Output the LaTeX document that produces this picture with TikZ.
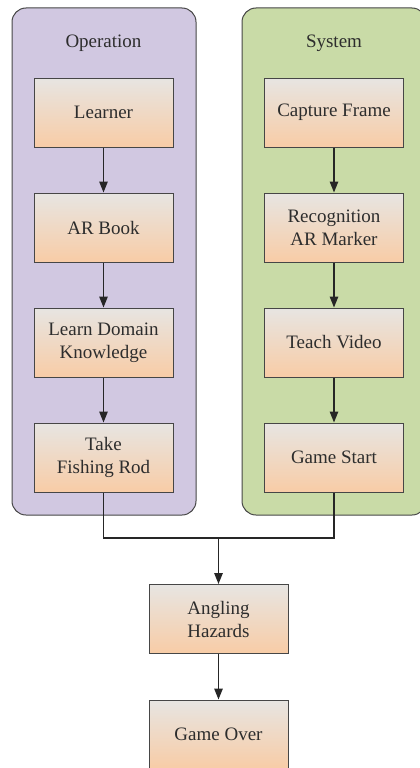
\documentclass[tikz,border=0pt]{standalone}
\usepackage{fontspec}
\setmainfont{Liberation Serif}
\newfontfamily\flowfont{Liberation Serif}
\usetikzlibrary{arrows.meta}
\usetikzlibrary{calc}

\definecolor{opfill}{RGB}{209,200,225}
\definecolor{sysfill}{RGB}{201,219,167}
\definecolor{boxtop}{RGB}{231,229,226}
\definecolor{boxbot}{RGB}{248,204,166}
\definecolor{edge}{RGB}{70,70,70}
\definecolor{ink}{RGB}{45,45,45}

\tikzset{
	panel/.style={draw=edge, line width=1pt, rounded corners=14pt},
	stepbox/.style={draw=edge, line width=1pt, top color=boxtop, bottom color=boxbot,
		minimum width=139pt, minimum height=69pt, align=center, text=ink,
		font=\flowfont\fontsize{19}{23}\selectfont},
	title/.style={text=ink, font=\flowfont\fontsize{19}{23}\selectfont},
	flow/.style={draw=black!85, line width=1.4pt, -{Triangle[length=11pt,width=8.5pt]}},
	link/.style={draw=black!85, line width=1.4pt}
}

\begin{document}
\begin{tikzpicture}[x=1pt, y=-1pt]
	\useasboundingbox (0,0) rectangle (420,768);

	% draw the two swimlanes
	\draw[panel, fill=opfill] (12,8) rectangle (196,515);
	\draw[panel, fill=sysfill] (242,8) rectangle (426,515);
	\node[title] (optitle) at (103.5,43) {Operation};
	\node[title] (systitle) at (334,43) {System};

	% operation side
	\node[stepbox] (learner) at (103.5,112.5) {Learner};
	\node[stepbox] (arbook) at (103.5,227.5) {AR Book};
	\node[stepbox] (domain) at (103.5,342.5) {Learn Domain\\Knowledge};
	\node[stepbox] (rod) at (103.5,457.5) {Take\\Fishing Rod};

	% system side
	\node[stepbox] (capture) at (334,112.5) {Capture Frame};
	\node[stepbox] (marker) at (334,227.5) {Recognition\\AR Marker};
	\node[stepbox] (video) at (334,342.5) {Teach Video};
	\node[stepbox] (start) at (334,457.5) {Game Start};

	% end of the game
	\node[stepbox] (hazards) at (218.5,619) {Angling\\Hazards};
	\node[stepbox] (over) at (218.5,734.5) {Game Over};

	% arrows inside the lanes
	\draw[flow] (learner) -- (arbook);
	\draw[flow] (arbook) -- (domain);
	\draw[flow] (domain) -- (rod);
	\draw[flow] (capture) -- (marker);
	\draw[flow] (marker) -- (video);
	\draw[flow] (video) -- (start);

	% both lanes meet below
	\coordinate (join) at (218.5,538);
	\draw[link] (rod.south) |- (join) -| (start.south);
	\draw[flow] (join) -- (hazards);
	\draw[flow] (hazards) -- (over);
\end{tikzpicture}
\end{document}
